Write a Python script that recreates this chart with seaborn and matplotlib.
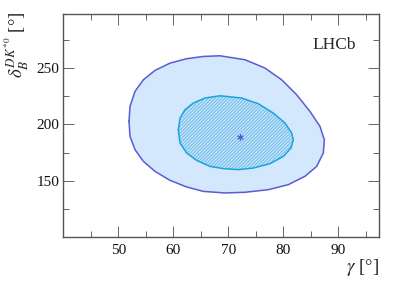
import matplotlib
matplotlib.use('Agg')
import matplotlib.pyplot as plt
import seaborn as sns
import pandas as pd

# 2D confidence contours (gamma [deg], delta_B [deg])
outer_gamma = [51.95, 52.13, 53.04, 54.55, 56.67, 59.40, 62.43, 65.46, 68.49,
               73.04, 76.67, 79.70, 82.43, 84.85, 86.67, 87.46, 87.28, 86.07,
               83.95, 80.92, 77.28, 73.04, 69.40, 65.46, 62.43, 59.40, 56.67,
               54.55, 53.04, 52.13]
outer_delta = [202.7, 216.0, 229.3, 239.6, 247.9, 254.4, 258.3, 260.3, 260.9,
               257.4, 250.0, 239.6, 226.3, 211.5, 198.2, 186.4, 174.6, 162.7,
               153.9, 146.5, 142.0, 139.7, 139.1, 140.5, 144.4, 150.3, 158.3,
               167.2, 177.5, 189.3]
inner_gamma = [60.92, 61.22, 62.13, 63.64, 65.76, 68.49, 72.43, 75.46, 78.19,
               80.31, 81.52, 81.82, 81.40, 80.01, 77.58, 74.55, 71.82, 69.10,
               66.67, 64.25, 62.43, 61.22]
inner_delta = [195.3, 205.6, 213.0, 218.9, 223.4, 225.4, 223.4, 218.3, 210.0,
               201.2, 192.3, 186.4, 179.0, 171.6, 165.1, 161.2, 159.8, 160.7,
               162.7, 168.0, 174.6, 183.4]
best_gamma = [72.1]
best_delta = [188.7]

x_major = [50, 60, 70, 80, 90]
y_major = [150, 200, 250]

sns.set_style('ticks')
plt.rcParams['font.family'] = ['Liberation Serif', 'DejaVu Serif']
plt.rcParams['mathtext.fontset'] = 'stix'
plt.rcParams['hatch.linewidth'] = 0.75

fig = plt.figure(figsize=(3.99, 2.86), dpi=100)
ax = fig.add_axes([63.3 / 399, 1 - 237 / 286, (379 - 63.3) / 399, (237 - 14) / 286])

outer = pd.DataFrame({'g': outer_gamma + outer_gamma[:1], 'd': outer_delta + outer_delta[:1]})
inner = pd.DataFrame({'g': inner_gamma + inner_gamma[:1], 'd': inner_delta + inner_delta[:1]})

ax.fill(outer['g'], outer['d'], facecolor='#d3e7fd', edgecolor='none', zorder=1)
sns.lineplot(data=outer, x='g', y='d', sort=False, estimator=None,
             color='#5b5bd6', lw=1.1, ax=ax, zorder=3)
ax.fill(inner['g'], inner['d'], facecolor='#cbe6fb', edgecolor='#6cbbe8',
        hatch='//////////', linewidth=0, zorder=2)
sns.lineplot(data=inner, x='g', y='d', sort=False, estimator=None,
             color='#1ca3de', lw=1.1, ax=ax, zorder=4)
sns.scatterplot(x=best_gamma, y=best_delta, marker=(6, 2, 0), s=16,
                color='#5b5bd6', linewidth=0.8, ax=ax, zorder=5)

ax.set_xlim(40, 97.4)
ax.set_ylim(100, 298)
ax.set_xticks(x_major)
ax.set_yticks(y_major)
ax.set_xticks([45, 55, 65, 75, 85, 95], minor=True)
ax.set_yticks([125, 175, 225, 275], minor=True)
ax.tick_params(which='both', direction='in', top=True, right=True,
               color='#666666', width=0.7, labelsize=11, labelcolor='#111111')
ax.tick_params(which='major', length=8)
ax.tick_params(which='minor', length=4.5)
ax.tick_params(axis='x', pad=5)
ax.tick_params(axis='y', pad=3)
for s in ax.spines.values():
    s.set_color('#555555')
    s.set_linewidth(1.0)
ax.set_xlabel('')
ax.set_ylabel('')

ax.text(0.927, 0.86, 'LHCb', transform=ax.transAxes, ha='right', va='center',
        fontsize=12.5)
fig.text(379 / 399, 1 - 268 / 286, r'$\gamma$ [°]', ha='right', va='center', fontsize=13.5)
fig.text(17 / 399, 1 - 12 / 286, r'$\delta_B^{DK^{*0}}$ [°]', rotation=90,
         ha='center', va='top', fontsize=13.5)

fig.savefig('out.png', dpi=100)
